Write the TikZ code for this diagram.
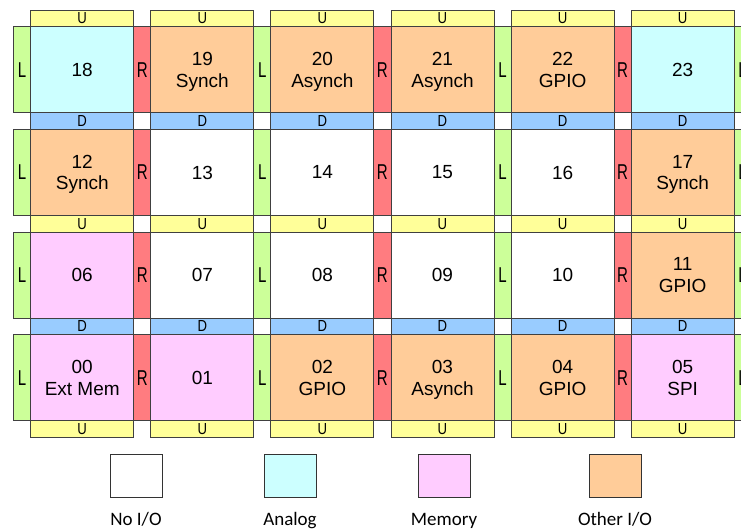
\documentclass[tikz,border=0pt]{standalone}
\usepackage{graphicx}
\usepackage{fontspec}
\setmainfont{Liberation Sans}
\newfontfamily\legfont{Carlito}
\definecolor{cyanT}{HTML}{CCFFFF}
\definecolor{orangeT}{HTML}{FFCC99}
\definecolor{pinkT}{HTML}{FFCCFF}
\definecolor{yelS}{HTML}{FFFF99}
\definecolor{bluS}{HTML}{99CCFF}
\definecolor{grnS}{HTML}{CCFF99}
\definecolor{redS}{HTML}{FF7C80}
\begin{document}
\begin{tikzpicture}[x=1pt,y=-1pt,
  tile/.style={draw=black!85, line width=0.9pt, minimum width=103pt, minimum height=86pt,
    anchor=north west, inner sep=0pt, align=center, text depth=0pt,
    font=\fontsize{19}{21.5}\selectfont},
  vstrip/.style={draw=black!75, line width=0.8pt, minimum width=17.08pt, minimum height=86pt,
    anchor=north west, inner sep=0pt, font=\fontsize{21.5}{21.5}\selectfont},
  hstrip/.style={draw=black!75, line width=0.8pt, minimum width=103pt, minimum height=16.67pt,
    anchor=north west, inner sep=0pt, font=\fontsize{16}{16}\selectfont},
  legbox/.style={draw=black!80, line width=0.8pt, minimum width=52pt, minimum height=43pt,
    anchor=north west, inner sep=0pt},
  leglabel/.style={inner sep=0pt, anchor=base, font=\legfont\fontsize{19}{19}\selectfont}]
\clip (0,0) rectangle (741,529);
\fill[white] (0,0) rectangle (741,529);
% tiles
\foreach \c/\r/\t/\f in {
  0/0/18/cyanT, 1/0/{19\\Synch}/orangeT, 2/0/{20\\Asynch}/orangeT, 3/0/{21\\Asynch}/orangeT,
  4/0/{22\\GPIO}/orangeT, 5/0/23/cyanT,
  0/1/{12\\Synch}/orangeT, 1/1/13/white, 2/1/14/white, 3/1/15/white, 4/1/16/white,
  5/1/{17\\Synch}/orangeT,
  0/2/06/pinkT, 1/2/07/white, 2/2/08/white, 3/2/09/white, 4/2/10/white, 5/2/{11\\GPIO}/orangeT,
  0/3/{00\\Ext Mem}/pinkT, 1/3/01/pinkT, 2/3/{02\\GPIO}/orangeT, 3/3/{03\\Asynch}/orangeT,
  4/3/{04\\GPIO}/orangeT, 5/3/{05\\SPI}/pinkT}
  \node[tile, fill=\f] (t\c\r) at ({30.3+120.08*\c}, {26.3+102.67*\r}) {\t};
% vertical strips L / R
\foreach \r in {0,1,2,3}
  \foreach \k/\lt/\cl in {0/L/grnS,1/R/redS,2/L/grnS,3/R/redS,4/L/grnS,5/R/redS,6/L/grnS}
    \node[vstrip, fill=\cl] (v\k\r) at ({13.22+120.08*\k}, {26.3+102.67*\r})
      {\scalebox{0.7}[1]{\lt}};
% horizontal strips U / D
\foreach \g/\lt/\cl in {0/U/yelS,1/D/bluS,2/U/yelS,3/D/bluS,4/U/yelS}
  \foreach \c in {0,...,5}
    \node[hstrip, fill=\cl] (h\c\g) at ({30.3+120.08*\c}, {9.63+102.67*\g})
      {\scalebox{0.82}[1]{\lt}};
% legend
\node[legbox, fill=white]   (lg1) at (110,454) {};
\node[legbox, fill=cyanT]   (lg2) at (264,454) {};
\node[legbox, fill=pinkT]   (lg3) at (418,454) {};
\node[legbox, fill=orangeT] (lg4) at (589,454) {};
\node[leglabel] (ll1) at (136,525) {No I/O};
\node[leglabel] (ll2) at (290,525) {Analog};
\node[leglabel] (ll3) at (444,525) {Memory};
\node[leglabel] (ll4) at (615,525) {Other I/O};
\end{tikzpicture}
\end{document}
